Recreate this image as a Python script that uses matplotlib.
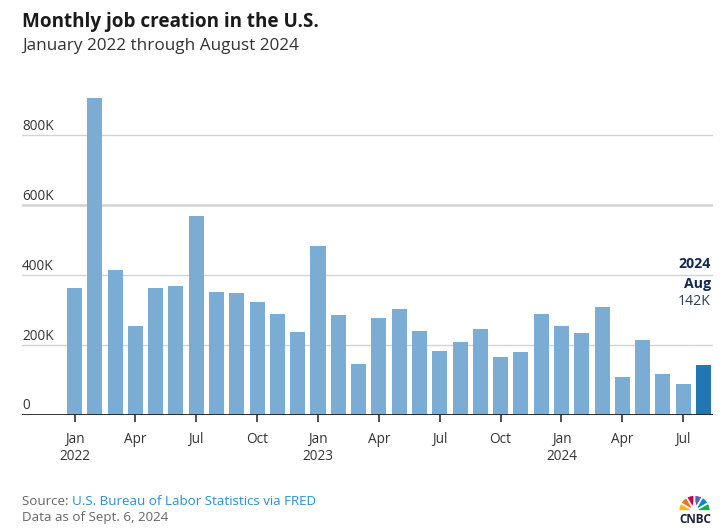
import matplotlib
matplotlib.use("Agg")
import matplotlib.pyplot as plt
from matplotlib.patches import Wedge, Polygon

# ---- data (thousands of jobs) ----
months = ["Jan", "Feb", "Mar", "Apr", "May", "Jun", "Jul", "Aug", "Sep", "Oct", "Nov", "Dec"]
years = [2022, 2023, 2024]
jobs = [363, 906, 414, 254, 363, 369, 569, 351, 349, 323, 289, 237,
        483, 286, 146, 277, 303, 240, 183, 209, 246, 166, 180, 289,
        254, 234, 309, 108, 216, 118, 89, 142]
yticks = [0, 200, 400, 600, 800]
ytick_labels = ["0", "200K", "400K", "600K", "800K"]

FONT = ["Open Sans", "DejaVu Sans"]
plt.rcParams["font.family"] = FONT

W, H = 726, 532
fig = plt.figure(figsize=(W / 100, H / 100), dpi=100)

left_px, right_px, base_px, top_px = 22, 713, 415, 90
ymax = 930
ax = fig.add_axes([left_px / W, (H - base_px) / H, (right_px - left_px) / W, (base_px - top_px) / H])
ppx = ymax / (base_px - top_px)  # data units per pixel (vertical)

n = len(jobs)
x = list(range(n))
light = "#7aacd4"
dark = "#1f77b4"
colors = [light] * (n - 1) + [dark]
ax.bar(x, jobs, width=0.74, color=colors, zorder=2)

ax.set_xlim(-2.59, 31.47)
ax.set_ylim(0, ymax)

# gridlines
for v in yticks[1:]:
    ax.axhline(v, color="#d3d3d3", lw=1.8 if v == 600 else 1.0, zorder=1)
ax.axhline(0, color="#222222", lw=1.3, zorder=3)

for v, lab in zip(yticks, ytick_labels):
    off = 6 if v == 0 else 5
    ax.text(-2.59, v + off * ppx, lab, ha="left", va="baseline", fontsize=9.8, color="#333333")

for s in ax.spines.values():
    s.set_visible(False)
ax.set_yticks([])

# x ticks: Jan, Apr, Jul, Oct
tick_pos = list(range(0, n, 3))
ax.set_xticks(tick_pos)
ax.set_xticklabels([])
ax.tick_params(axis="x", length=5, width=1.1, color="#222222")
xt = ax.get_xaxis_transform()
axh = base_px - top_px
for i in tick_pos:
    ax.text(i, -28 / axh, months[i % 12], transform=xt, ha="center", va="baseline",
            fontsize=9.8, color="#333333")
    if i % 12 == 0:
        ax.text(i, -45 / axh, str(years[i // 12]), transform=xt, ha="center", va="baseline",
                fontsize=9.8, color="#333333")

# annotation for last bar
xr = n - 1 + 0.37
last = jobs[-1]
ax.text(xr, last + 97 * ppx, "2024", ha="right", va="baseline", fontsize=10.2,
        fontweight="bold", color="#12294f")
ax.text(xr, last + 77 * ppx, "Aug", ha="right", va="baseline", fontsize=10.2,
        fontweight="bold", color="#12294f")
ax.text(xr, last + 60 * ppx, f"{last}K", ha="right", va="baseline", fontsize=10.2,
        color="#2c3e5c")

# titles
fig.text(22 / W, 1 - 27 / H, "Monthly job creation in the U.S.", fontsize=13.6,
         fontweight="bold", color="#1a1a1a", ha="left", va="baseline")
fig.text(22 / W, 1 - 50 / H, "January 2022 through August 2024", fontsize=12.3,
         color="#333333", ha="left", va="baseline")

# source
t1 = fig.text(22 / W, 1 - 505 / H, "Source: ", fontsize=9.6, color="#666666",
              ha="left", va="baseline")
fig.canvas.draw()
r = fig.canvas.get_renderer()
bb = t1.get_window_extent(r)
fig.text(bb.x1 / W, 1 - 505 / H, "U.S. Bureau of Labor Statistics via FRED",
         fontsize=9.6, color="#2b8fd0", ha="left", va="baseline")
fig.text(22 / W, 1 - 521 / H, "Data as of Sept. 6, 2024", fontsize=9.6, color="#666666",
         ha="left", va="baseline")

# CNBC logo (simplified peacock)
lax = fig.add_axes([670 / W, 0, 56 / W, 52 / H])
lax.set_xlim(670, 726)
lax.set_ylim(532, 480)
lax.axis("off")
pcols = ["#fcb711", "#f37021", "#cc004c", "#6460aa", "#0089d0", "#0db14b"]
cx, cy = 694.5, 511
for k, c in enumerate(pcols):
    a1 = 180 + k * 30
    a2 = a1 + 30
    lax.add_patch(Wedge((cx, cy), 16, a1, a2, width=13, facecolor=c,
                        edgecolor="white", lw=1.2))
lax.add_patch(Polygon([[cx - 3.5, cy], [cx + 3.5, cy], [cx, cy - 9]], closed=True,
                      facecolor="white", edgecolor="white"))
lax.text(695.5, 523, "CNBC", ha="center", va="baseline", fontsize=8.5, fontweight="bold",
         color="#1a1f3a")

fig.savefig("out.png", dpi=100)
